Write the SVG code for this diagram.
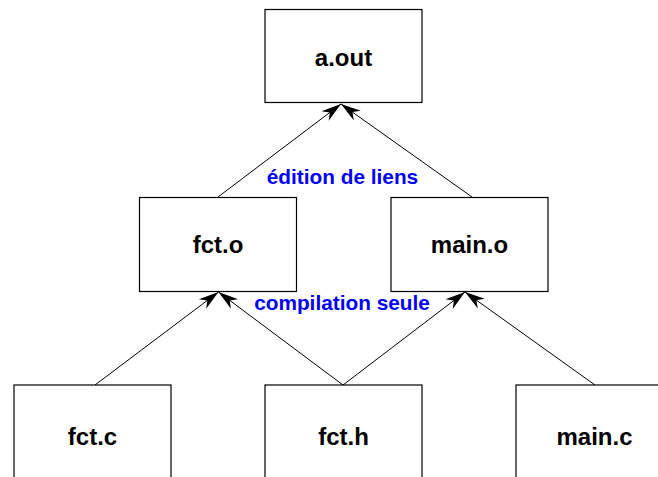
<svg xmlns="http://www.w3.org/2000/svg" width="658" height="477" viewBox="0 0 658 477">
<style>
.box{fill:#fff;stroke:#000;stroke-width:1.2}
.lbl{font-family:"Liberation Sans",Arial,sans-serif;font-weight:bold;font-size:24px;text-anchor:middle;fill:#000}
.edge{font-family:"Liberation Sans",Arial,sans-serif;font-weight:bold;font-size:20.8px;text-anchor:middle;fill:#0000ff}
.conn{stroke:#000;stroke-width:1;fill:none;marker-end:url(#ah)}
</style>
<defs>
<marker id="ah" markerUnits="userSpaceOnUse" viewBox="-21 -7 22 14" refX="0" refY="0" markerWidth="22" markerHeight="14" orient="auto">
<path d="M0,0 L-20,-6 L-14,0 L-20,6 Z" fill="#000"/>
</marker>
</defs>
<rect width="658" height="477" fill="#fff"/>
<g id="connectors">
<line class="conn" x1="218" y1="197" x2="341" y2="104"/>
<line class="conn" x1="472" y1="197" x2="341" y2="104"/>
<line class="conn" x1="95" y1="385" x2="218.5" y2="292"/>
<line class="conn" x1="343" y1="385" x2="218.5" y2="292"/>
<line class="conn" x1="343" y1="385" x2="465" y2="292"/>
<line class="conn" x1="595" y1="385" x2="465" y2="292"/>
</g>
<g id="aout"><rect class="box" x="265" y="9.5" width="157" height="93"/><text class="lbl" x="343.5" y="66">a.out</text></g>
<g id="fcto"><rect class="box" x="139.5" y="197.5" width="157" height="94"/><text class="lbl" x="218" y="253">fct.o</text></g>
<g id="maino"><rect class="box" x="391" y="197.5" width="157" height="94"/><text class="lbl" x="469.5" y="253">main.o</text></g>
<g id="fctc"><rect class="box" x="14" y="385" width="157" height="100"/><text class="lbl" x="92.5" y="445">fct.c</text></g>
<g id="fcth"><rect class="box" x="265" y="385" width="157" height="100"/><text class="lbl" x="343.5" y="445">fct.h</text></g>
<g id="mainc"><rect class="box" x="516" y="385" width="157" height="100"/><text class="lbl" x="594.5" y="445">main.c</text></g>
<text class="edge" x="342.5" y="184">édition de liens</text>
<text class="edge" x="342" y="310">compilation seule</text>
</svg>
